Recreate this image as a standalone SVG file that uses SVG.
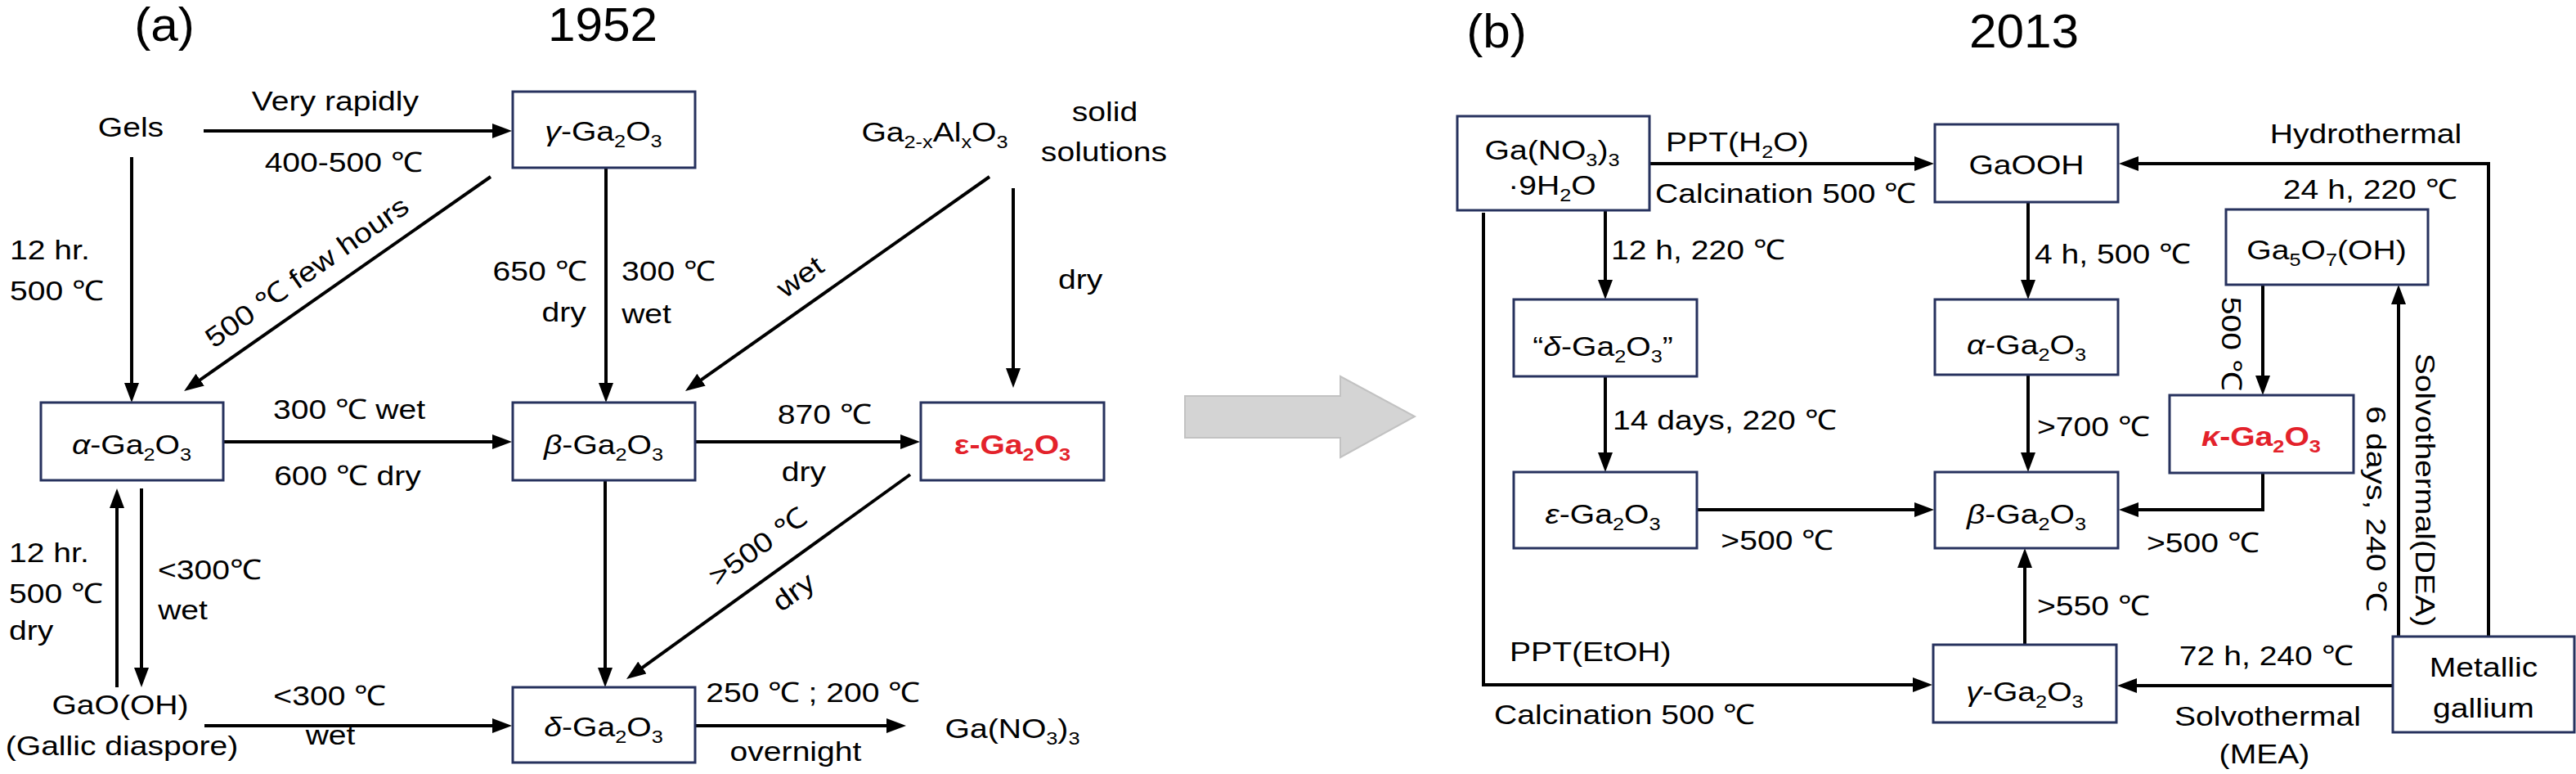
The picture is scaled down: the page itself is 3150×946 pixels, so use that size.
<svg xmlns="http://www.w3.org/2000/svg" width="3150" height="946" viewBox="0 0 3150 946">
<style>
.t{font-family:"Liberation Sans",Arial,Helvetica,sans-serif;font-size:34px;fill:#000;transform-box:fill-box;transform:scaleX(1.15)}
.ti{font-family:"Liberation Sans",Arial,Helvetica,sans-serif;font-size:58px;fill:#000;text-anchor:middle;transform-box:fill-box;transform-origin:center;transform:scaleX(1.04)}
.c{text-anchor:middle;transform-origin:center}
.l{text-anchor:start;transform-origin:left center}
.r{text-anchor:end;transform-origin:right center}
.red{fill:#e3222b;font-weight:bold}
.box{fill:#fff;stroke:#27325e;stroke-width:3}
.ln{fill:none;stroke:#000;stroke-width:4}
.ar{marker-end:url(#ah)}
.gr{font-style:italic}
</style>
<defs>
<marker id="ah" viewBox="0 0 24 18" refX="16" refY="9" markerWidth="24" markerHeight="18" markerUnits="userSpaceOnUse" orient="auto"><path d="M0,0 L24,9 L0,18 z" fill="#000"/></marker>
</defs>
<rect width="3150" height="946" fill="#fff"/>

<!-- titles -->
<text class="ti" x="201" y="50">(a)</text>
<text class="ti" x="737" y="50">1952</text>
<text class="ti" x="1830" y="58">(b)</text>
<text class="ti" x="2475" y="58">2013</text>

<!-- connectors -->
<g id="connectors">
  <!-- panel a -->
  <line class="ln ar" x1="249" y1="160" x2="618" y2="160"/>
  <line class="ln ar" x1="161" y1="192" x2="161" y2="484"/>
  <line class="ln ar" x1="600" y1="216" x2="231.6" y2="473.4"/>
  <line class="ln ar" x1="741" y1="205" x2="741" y2="484"/>
  <line class="ln ar" x1="1210" y1="216" x2="844.5" y2="473.4"/>
  <line class="ln ar" x1="1239" y1="230" x2="1239" y2="466"/>
  <line class="ln ar" x1="273" y1="540" x2="618" y2="540"/>
  <line class="ln ar" x1="850" y1="540" x2="1117" y2="540"/>
  <line class="ln ar" x1="143" y1="840" x2="143" y2="605"/>
  <line class="ln ar" x1="173" y1="597" x2="173" y2="832"/>
  <line class="ln ar" x1="250" y1="887" x2="618" y2="887"/>
  <line class="ln ar" x1="740" y1="587" x2="740" y2="832"/>
  <line class="ln ar" x1="1113" y1="580" x2="772.5" y2="825.3"/>
  <line class="ln ar" x1="850" y1="887" x2="1100" y2="887"/>
  <!-- panel b -->
  <line class="ln ar" x1="2017" y1="200" x2="2357" y2="200"/>
  <polyline class="ln ar" points="3043,778 3043,200 2599,200"/>
  <line class="ln ar" x1="1963" y1="257" x2="1963" y2="358"/>
  <line class="ln ar" x1="2480" y1="247" x2="2480" y2="358"/>
  <line class="ln ar" x1="1963" y1="460" x2="1963" y2="569"/>
  <line class="ln ar" x1="2480" y1="458" x2="2480" y2="569"/>
  <line class="ln ar" x1="2767" y1="348" x2="2767" y2="475"/>
  <line class="ln ar" x1="2933" y1="778" x2="2933" y2="356"/>
  <polyline class="ln ar" points="2767,578 2767,623 2599,623"/>
  <line class="ln ar" x1="2075" y1="623" x2="2357" y2="623"/>
  <line class="ln ar" x1="2476" y1="788" x2="2476" y2="678"/>
  <line class="ln ar" x1="2926" y1="838" x2="2597" y2="838"/>
  <polyline class="ln ar" points="1814,260 1814,837 2355,837"/>
</g>

<!-- connector labels panel a -->
<g id="labels-a">
  <text class="t c" x="410" y="135">Very rapidly</text>
  <text class="t c" x="420" y="210">400-500 ℃</text>
  <text class="t l" x="12" y="317">12 hr.</text>
  <text class="t l" x="12" y="367">500 ℃</text>
  <g transform="translate(375,332) rotate(-35)"><text class="t c" x="0" y="12">500 ℃ few hours</text></g>
  <text class="t r" x="717" y="343">650 ℃</text>
  <text class="t r" x="717" y="393">dry</text>
  <text class="t l" x="760" y="343">300 ℃</text>
  <text class="t l" x="760" y="395">wet</text>
  <g transform="translate(978,338) rotate(-35.2)"><text class="t c" x="0" y="12">wet</text></g>
  <text class="t l" x="1294" y="353">dry</text>
  <text class="t c" x="427" y="512">300 ℃ wet</text>
  <text class="t c" x="425" y="593">600 ℃ dry</text>
  <text class="t c" x="1008" y="518">870 ℃</text>
  <text class="t c" x="983" y="588">dry</text>
  <text class="t l" x="11" y="687">12 hr.</text>
  <text class="t l" x="11" y="737">500 ℃</text>
  <text class="t l" x="11" y="782">dry</text>
  <text class="t l" x="193" y="708">&lt;300℃</text>
  <text class="t l" x="193" y="757">wet</text>
  <g transform="translate(926,668) rotate(-35.8)"><text class="t c" x="0" y="12">&gt;500 ℃</text></g>
  <g transform="translate(970,723) rotate(-35.8)"><text class="t c" x="0" y="12">dry</text></g>
  <text class="t c" x="403" y="862">&lt;300 ℃</text>
  <text class="t c" x="404" y="910">wet</text>
  <text class="t c" x="994" y="858">250 ℃ ; 200 ℃</text>
  <text class="t c" x="973" y="930">overnight</text>
</g>

<!-- nodes panel a -->
<g id="gels"><text class="t c" x="160" y="167">Gels</text></g>
<g id="gamma-a"><rect class="box" x="627" y="112" width="223" height="93"/><text class="t c" x="738" y="172"><tspan class="gr">γ</tspan>-Ga<tspan font-size="22" dy="8">2</tspan><tspan dy="-8">O</tspan><tspan font-size="22" dy="8">3</tspan></text></g>
<g id="solid-sol"><text class="t c" x="1143" y="173">Ga<tspan font-size="22" dy="8">2-x</tspan><tspan dy="-8">Al</tspan><tspan font-size="22" dy="8">x</tspan><tspan dy="-8">O</tspan><tspan font-size="22" dy="8">3</tspan></text>
<text class="t c" x="1351" y="148">solid</text><text class="t c" x="1350" y="197">solutions</text></g>
<g id="alpha-a"><rect class="box" x="50" y="492" width="223" height="95"/><text class="t c" x="161" y="555"><tspan class="gr">α</tspan>-Ga<tspan font-size="22" dy="8">2</tspan><tspan dy="-8">O</tspan><tspan font-size="22" dy="8">3</tspan></text></g>
<g id="beta-a"><rect class="box" x="627" y="492" width="223" height="95"/><text class="t c" x="738" y="555"><tspan class="gr">β</tspan>-Ga<tspan font-size="22" dy="8">2</tspan><tspan dy="-8">O</tspan><tspan font-size="22" dy="8">3</tspan></text></g>
<g id="eps-a"><rect class="box" x="1126" y="492" width="224" height="95"/><text class="t c red" x="1238" y="555">ε-Ga<tspan font-size="22" dy="8">2</tspan><tspan dy="-8">O</tspan><tspan font-size="22" dy="8">3</tspan></text></g>
<g id="gaooh-a"><text class="t c" x="147" y="873">GaO(OH)</text><text class="t c" x="149" y="923">(Gallic diaspore)</text></g>
<g id="delta-a"><rect class="box" x="627" y="840" width="223" height="92"/><text class="t c" x="738" y="900"><tspan class="gr">δ</tspan>-Ga<tspan font-size="22" dy="8">2</tspan><tspan dy="-8">O</tspan><tspan font-size="22" dy="8">3</tspan></text></g>
<g id="nitrate-a"><text class="t c" x="1238" y="902">Ga(NO<tspan font-size="22" dy="8">3</tspan><tspan dy="-8">)</tspan><tspan font-size="22" dy="8">3</tspan></text></g>

<!-- big gray arrow -->
<g id="gray-arrow"><polygon points="1449,484 1639,484 1639,460 1730,509 1639,559 1639,535 1449,535" fill="#d4d4d4" stroke="#c2c2c2" stroke-width="2"/></g>

<!-- connector labels panel b -->
<g id="labels-b">
  <text class="t l" x="2037" y="185">PPT(H<tspan font-size="22" dy="8">2</tspan><tspan dy="-8">O)</tspan></text>
  <text class="t l" x="2024" y="248">Calcination 500 ℃</text>
  <text class="t c" x="2893" y="175">Hydrothermal</text>
  <text class="t c" x="2898" y="243">24 h, 220 ℃</text>
  <text class="t l" x="1970" y="317">12 h, 220 ℃</text>
  <text class="t l" x="2488" y="322">4 h, 500 ℃</text>
  <g transform="translate(2729,420) rotate(90)"><text class="t c" x="0" y="12">500 ℃</text></g>
  <text class="t l" x="1972" y="525">14 days, 220 ℃</text>
  <text class="t l" x="2491" y="533">&gt;700 ℃</text>
  <g transform="translate(2906,622) rotate(90)"><text class="t c" x="0" y="12">6 days, 240 ℃</text></g>
  <g transform="translate(2966,599) rotate(90)"><text class="t c" x="0" y="12">Solvothermal(DEA)</text></g>
  <text class="t c" x="2173" y="672">&gt;500 ℃</text>
  <text class="t l" x="2625" y="675">&gt;500 ℃</text>
  <text class="t l" x="2491" y="752">&gt;550 ℃</text>
  <text class="t l" x="1846" y="808">PPT(EtOH)</text>
  <text class="t l" x="1827" y="885">Calcination 500 ℃</text>
  <text class="t c" x="2771" y="813">72 h, 240 ℃</text>
  <text class="t c" x="2773" y="887">Solvothermal</text>
  <text class="t c" x="2769" y="933">(MEA)</text>
</g>

<!-- nodes panel b -->
<g id="nitrate-b"><rect class="box" x="1782" y="142" width="235" height="115"/><text class="t c" x="1898" y="195">Ga(NO<tspan font-size="22" dy="8">3</tspan><tspan dy="-8">)</tspan><tspan font-size="22" dy="8">3</tspan></text><text class="t c" x="1898" y="238">·9H<tspan font-size="22" dy="8">2</tspan><tspan dy="-8">O</tspan></text></g>
<g id="gaooh-b"><rect class="box" x="2366" y="152" width="224" height="95"/><text class="t c" x="2478" y="213">GaOOH</text></g>
<g id="ga5o7-b"><rect class="box" x="2722" y="256" width="247" height="92"/><text class="t c" x="2845" y="317">Ga<tspan font-size="22" dy="8">5</tspan><tspan dy="-8">O</tspan><tspan font-size="22" dy="8">7</tspan><tspan dy="-8">(OH)</tspan></text></g>
<g id="delta-b"><rect class="box" x="1851" y="366" width="224" height="94"/><text class="t c" x="1960" y="435">“<tspan class="gr">δ</tspan>-Ga<tspan font-size="22" dy="8">2</tspan><tspan dy="-8">O</tspan><tspan font-size="22" dy="8">3</tspan><tspan dy="-8">”</tspan></text></g>
<g id="alpha-b"><rect class="box" x="2366" y="366" width="224" height="92"/><text class="t c" x="2478" y="433"><tspan class="gr">α</tspan>-Ga<tspan font-size="22" dy="8">2</tspan><tspan dy="-8">O</tspan><tspan font-size="22" dy="8">3</tspan></text></g>
<g id="kappa-b"><rect class="box" x="2653" y="483" width="225" height="95"/><text class="t c red" x="2765" y="545"><tspan class="gr">κ</tspan>-Ga<tspan font-size="22" dy="8">2</tspan><tspan dy="-8">O</tspan><tspan font-size="22" dy="8">3</tspan></text></g>
<g id="eps-b"><rect class="box" x="1851" y="577" width="224" height="93"/><text class="t c" x="1960" y="640"><tspan class="gr">ε</tspan>-Ga<tspan font-size="22" dy="8">2</tspan><tspan dy="-8">O</tspan><tspan font-size="22" dy="8">3</tspan></text></g>
<g id="beta-b"><rect class="box" x="2366" y="577" width="224" height="93"/><text class="t c" x="2478" y="640"><tspan class="gr">β</tspan>-Ga<tspan font-size="22" dy="8">2</tspan><tspan dy="-8">O</tspan><tspan font-size="22" dy="8">3</tspan></text></g>
<g id="gamma-b"><rect class="box" x="2364" y="788" width="224" height="95"/><text class="t c" x="2476" y="857"><tspan class="gr">γ</tspan>-Ga<tspan font-size="22" dy="8">2</tspan><tspan dy="-8">O</tspan><tspan font-size="22" dy="8">3</tspan></text></g>
<g id="metal-b"><rect class="box" x="2926" y="778" width="222" height="117"/><text class="t c" x="3037" y="827">Metallic</text><text class="t c" x="3037" y="877">gallium</text></g>
</svg>
